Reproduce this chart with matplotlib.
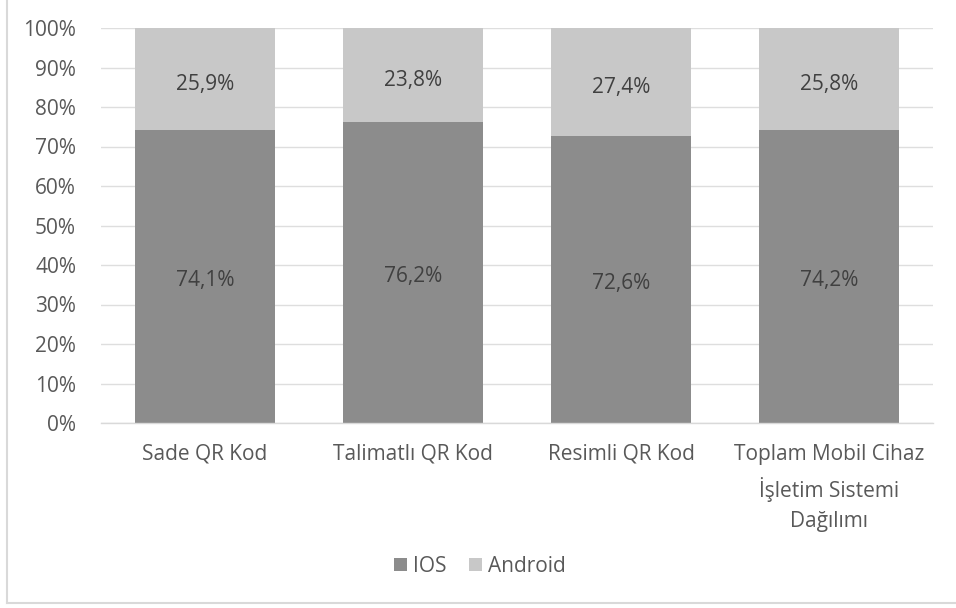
import matplotlib.pyplot as plt
import numpy as np
from matplotlib.lines import Line2D

# Data
categories = ['Sade QR Kod', 'Talimatlı QR Kod', 'Resimli QR Kod',
              'Toplam Mobil Cihaz\nİşletim Sistemi\nDağılımı']
ios = [74.1, 76.2, 72.6, 74.2]
android = [25.9, 23.8, 27.4, 25.8]
yticks = [0, 10, 20, 30, 40, 50, 60, 70, 80, 90, 100]

plt.rcParams['font.family'] = ['Open Sans', 'DejaVu Sans']
text_col = '#595959'
lab_col = '#404040'
ios_col = '#8c8c8c'
and_col = '#c8c8c8'
fs = 15

fig = plt.figure(figsize=(9.56, 6.08), dpi=100)
W, H = 956, 608
ax = fig.add_axes([101 / W, 1 - 423 / H, (933 - 101) / W, (423 - 28) / H])

x = np.arange(len(categories))
ax.bar(x, ios, width=0.67, color=ios_col, label='IOS', zorder=2)
ax.bar(x, android, width=0.67, bottom=ios, color=and_col, label='Android', zorder=2)

# data labels
for i in range(len(x)):
    ax.text(x[i], ios[i] / 2 - 1.0, f'{ios[i]:.1f}%'.replace('.', ','),
            ha='center', va='center', fontsize=fs, color=lab_col)
    ax.text(x[i], ios[i] + android[i] / 2 - 1.3, f'{android[i]:.1f}%'.replace('.', ','),
            ha='center', va='center', fontsize=fs, color=lab_col)

ax.set_xlim(-0.5, len(x) - 0.5)
ax.set_ylim(0, 100)
ax.set_yticks(yticks)
ax.set_yticklabels([f'{t}%' for t in yticks])
ax.set_xticks(x)
ax.set_xticklabels(categories, linespacing=1.6)
ax.tick_params(axis='both', length=0, labelsize=fs, labelcolor=text_col)
ax.tick_params(axis='y', pad=18)
ax.tick_params(axis='x', pad=15)
ax.yaxis.grid(True, color='#dedede', linewidth=1, zorder=0)
for s in ['top', 'right', 'left']:
    ax.spines[s].set_visible(False)
ax.spines['bottom'].set_color('#d9d9d9')
ax.spines['bottom'].set_linewidth(1)
ax.spines['bottom'].set_zorder(3)

leg = fig.legend(loc='center', bbox_to_anchor=(480 / W, 1 - 566 / H), ncol=2,
                 frameon=False, fontsize=fs, handlelength=0.6, handleheight=0.6,
                 handletextpad=0.3, columnspacing=1.1, labelcolor=text_col)

# chart outer border (left and bottom only visible)
fig.lines.append(Line2D([7 / W, 7 / W], [1.0, 1 - 603 / H], transform=fig.transFigure,
                        color='#d9d9d9', linewidth=1.5))
fig.lines.append(Line2D([7 / W, 1.0], [1 - 603 / H, 1 - 603 / H], transform=fig.transFigure,
                        color='#d9d9d9', linewidth=1.5))

fig.savefig('out.png', dpi=100)
